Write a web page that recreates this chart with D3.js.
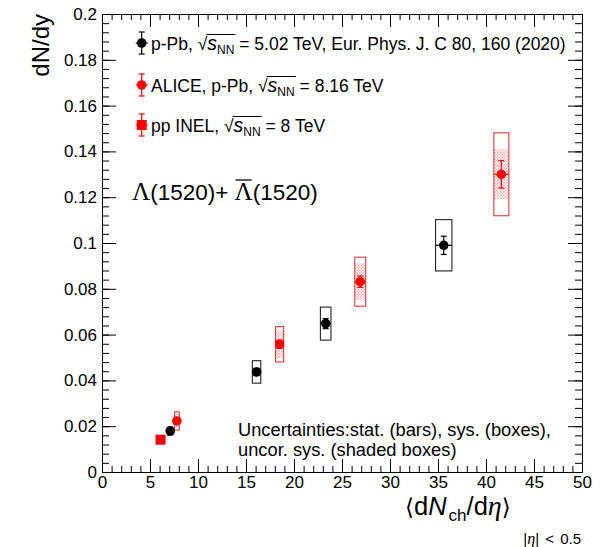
<!DOCTYPE html>
<html>
<head>
<meta charset="utf-8">
<script src="https://cdn.jsdelivr.net/npm/d3@7"></script>
<style>
  html, body { margin: 0; padding: 0; background: #fff; }
  svg { display: block; }
  text { font-family: "Liberation Sans", Arial, Helvetica, sans-serif; fill: #000; }
</style>
</head>
<body>
<svg id="chart" width="603" height="547"></svg>
<script>
// ---------- DATA ----------
// p-Pb 5.02 TeV (black)
const pPb502_x     = [7.1, 16.1, 23.3, 35.6];
const pPb502_y     = [0.0179, 0.0437, 0.0648, 0.0990];
const pPb502_stat  = [0.0010, 0.0016, 0.0022, 0.0040];
const pPb502_sys   = [0.0018, 0.0049, 0.0072, 0.0112];
const pPb502_xerr  = [0.25, 0.44, 0.55, 0.85];
// ALICE p-Pb 8.16 TeV (red)
const pPb816_x     = [7.8, 18.5, 26.9, 41.6];
const pPb816_y     = [0.0223, 0.0558, 0.0831, 0.1300];
const pPb816_stat  = [0.0012, 0.0018, 0.0025, 0.0060];
const pPb816_sys   = [0.0040, 0.0077, 0.0107, 0.0181];
const pPb816_uncor = [0.0030, 0.0060, 0.0080, 0.0109];
const pPb816_xerr  = [0.25, 0.42, 0.57, 0.78];
// pp INEL 8 TeV (red square)
const pp8_x = [6.1];
const pp8_y = [0.0141];

const xMajorTicks = [0, 5, 10, 15, 20, 25, 30, 35, 40, 45, 50];
const xTickLabels = ["0", "5", "10", "15", "20", "25", "30", "35", "40", "45", "50"];
const yMajorTicks = [0, 0.02, 0.04, 0.06, 0.08, 0.1, 0.12, 0.14, 0.16, 0.18, 0.2];
const yTickLabels = ["0", "0.02", "0.04", "0.06", "0.08", "0.1", "0.12", "0.14", "0.16", "0.18", "0.2"];

// ---------- LAYOUT ----------
const svg = d3.select("#chart");
const L = 102, R = 582, T = 14, B = 472;
const x = d3.scaleLinear().domain([0, 50]).range([L, R]);
const y = d3.scaleLinear().domain([0, 0.2]).range([B, T]);

const RED = "#ff0000";
const RED_BOX = "#e23a3a";

// hatch pattern for uncorrelated systematics
const defs = svg.append("defs");
const pat = defs.append("pattern").attr("id", "hatch").attr("patternUnits", "userSpaceOnUse")
  .attr("width", 3).attr("height", 3);
pat.append("rect").attr("width", 3).attr("height", 3).attr("fill", "#fff");
pat.append("path").attr("d", "M0,0 L3,3 M3,0 L0,3").attr("stroke", "#f39a9a").attr("stroke-width", 0.6);

// ---------- AXES ----------
const xMinor = d3.range(0, 50.001, 1);
const yMinor = d3.range(0, 0.2001, 0.004);

function styleAxis(g) {
  g.select(".domain").attr("stroke", "#000").attr("stroke-width", 1);
  g.selectAll(".tick line").attr("stroke", "#000").attr("stroke-width", 1);
}

// bottom
svg.append("g").attr("transform", `translate(0,${B})`)
  .call(d3.axisBottom(x).tickValues(xMinor).tickSize(-6).tickFormat("").tickSizeOuter(0)).call(styleAxis);
const gx = svg.append("g").attr("transform", `translate(0,${B})`)
  .call(d3.axisBottom(x).tickValues(xMajorTicks).tickSize(-13).tickPadding(4)
    .tickFormat((d, i) => xTickLabels[i]).tickSizeOuter(0)).call(styleAxis);
gx.selectAll("text").attr("font-size", 17).attr("font-family", "Liberation Sans, Arial, sans-serif");
// top
svg.append("g").attr("transform", `translate(0,${T})`)
  .call(d3.axisTop(x).tickValues(xMinor).tickSize(-6).tickFormat("").tickSizeOuter(0)).call(styleAxis);
svg.append("g").attr("transform", `translate(0,${T})`)
  .call(d3.axisTop(x).tickValues(xMajorTicks).tickSize(-13).tickFormat("").tickSizeOuter(0)).call(styleAxis);
// left
svg.append("g").attr("transform", `translate(${L},0)`)
  .call(d3.axisLeft(y).tickValues(yMinor).tickSize(-7).tickFormat("").tickSizeOuter(0)).call(styleAxis);
const gy = svg.append("g").attr("transform", `translate(${L},0)`)
  .call(d3.axisLeft(y).tickValues(yMajorTicks).tickSize(-14).tickPadding(5)
    .tickFormat((d, i) => yTickLabels[i]).tickSizeOuter(0)).call(styleAxis);
gy.selectAll("text").attr("font-size", 17).attr("font-family", "Liberation Sans, Arial, sans-serif");
// right
svg.append("g").attr("transform", `translate(${R},0)`)
  .call(d3.axisRight(y).tickValues(yMinor).tickSize(-7).tickFormat("").tickSizeOuter(0)).call(styleAxis);
svg.append("g").attr("transform", `translate(${R},0)`)
  .call(d3.axisRight(y).tickValues(yMajorTicks).tickSize(-14).tickFormat("").tickSizeOuter(0)).call(styleAxis);

// ---------- AXIS TITLES ----------
svg.append("text").attr("transform", `translate(49,${T}) rotate(-90)`)
  .attr("text-anchor", "end").attr("font-size", 24).text("dN/dy");

const xt = svg.append("text").attr("x", 405).attr("y", 515).attr("font-size", 25.5);
xt.append("tspan").attr("font-family", "DejaVu Sans, sans-serif").attr("font-size", 23).text("\u27E8");
xt.append("tspan").text("d");
xt.append("tspan").attr("font-style", "italic").text("N");
xt.append("tspan").attr("font-size", 17).attr("dy", 6).attr("dx", 2).text("ch");
xt.append("tspan").attr("dy", -6).text("/d");
xt.append("tspan").attr("font-style", "italic").attr("font-family", "Liberation Serif, serif").attr("font-size", 28).text("\u03B7");
xt.append("tspan").attr("font-family", "DejaVu Sans, sans-serif").attr("font-size", 23).text("\u27E9");

const xs = svg.append("text").attr("x", 581).attr("y", 544).attr("text-anchor", "end")
  .attr("font-size", 15).attr("word-spacing", 2);
xs.append("tspan").text("|");
xs.append("tspan").attr("font-style", "italic").attr("font-family", "Liberation Serif, serif").attr("font-size", 16).text("\u03B7");
xs.append("tspan").text("| < 0.5");

// ---------- DATA MARKS ----------
const plot = svg.append("g");

// black sys boxes
plot.selectAll("rect.bsys").data(pPb502_x).join("rect").attr("class", "bsys")
  .attr("x", (d, i) => x(d - pPb502_xerr[i]))
  .attr("width", (d, i) => x(d + pPb502_xerr[i]) - x(d - pPb502_xerr[i]))
  .attr("y", (d, i) => y(pPb502_y[i] + pPb502_sys[i]))
  .attr("height", (d, i) => y(pPb502_y[i] - pPb502_sys[i]) - y(pPb502_y[i] + pPb502_sys[i]))
  .attr("fill", "none").attr("stroke", "#222").attr("stroke-width", 1.1);

// red uncorrelated (shaded) boxes
plot.selectAll("rect.runc").data(pPb816_x).join("rect").attr("class", "runc")
  .attr("x", (d, i) => x(d - pPb816_xerr[i]))
  .attr("width", (d, i) => x(d + pPb816_xerr[i]) - x(d - pPb816_xerr[i]))
  .attr("y", (d, i) => y(pPb816_y[i] + pPb816_uncor[i]))
  .attr("height", (d, i) => y(pPb816_y[i] - pPb816_uncor[i]) - y(pPb816_y[i] + pPb816_uncor[i]))
  .attr("fill", "url(#hatch)").attr("stroke", "none");

// red sys boxes
plot.selectAll("rect.rsys").data(pPb816_x).join("rect").attr("class", "rsys")
  .attr("x", (d, i) => x(d - pPb816_xerr[i]))
  .attr("width", (d, i) => x(d + pPb816_xerr[i]) - x(d - pPb816_xerr[i]))
  .attr("y", (d, i) => y(pPb816_y[i] + pPb816_sys[i]))
  .attr("height", (d, i) => y(pPb816_y[i] - pPb816_sys[i]) - y(pPb816_y[i] + pPb816_sys[i]))
  .attr("fill", "none").attr("stroke", RED_BOX).attr("stroke-width", 1.1);

function errorBars(xs, ys, errs, xerrs, color) {
  const g = plot.append("g").attr("stroke", color).attr("stroke-width", 1.2);
  xs.forEach((xv, i) => {
    const cx = x(xv), cy = y(ys[i]);
    const y1 = y(ys[i] + errs[i]), y2 = y(ys[i] - errs[i]);
    g.append("line").attr("x1", cx).attr("x2", cx).attr("y1", y1).attr("y2", y2);
    g.append("line").attr("x1", cx - 3).attr("x2", cx + 3).attr("y1", y1).attr("y2", y1);
    g.append("line").attr("x1", cx - 3).attr("x2", cx + 3).attr("y1", y2).attr("y2", y2);
    g.append("line").attr("x1", x(xv - xerrs[i])).attr("x2", x(xv + xerrs[i])).attr("y1", cy).attr("y2", cy);
  });
}
errorBars(pPb502_x, pPb502_y, pPb502_stat, pPb502_xerr, "#000");
errorBars(pPb816_x, pPb816_y, pPb816_stat, pPb816_xerr, RED);

plot.selectAll("circle.b").data(pPb502_x).join("circle").attr("class", "b")
  .attr("cx", d => x(d)).attr("cy", (d, i) => y(pPb502_y[i])).attr("r", 4.8).attr("fill", "#000");
plot.selectAll("circle.r").data(pPb816_x).join("circle").attr("class", "r")
  .attr("cx", d => x(d)).attr("cy", (d, i) => y(pPb816_y[i])).attr("r", 4.8).attr("fill", RED);
plot.selectAll("rect.pp").data(pp8_x).join("rect").attr("class", "pp")
  .attr("x", d => x(d) - 5).attr("y", (d, i) => y(pp8_y[i]) - 5)
  .attr("width", 10).attr("height", 10).attr("fill", RED);

// ---------- LEGEND ----------
function legendMarker(cx, cy, color, shape) {
  const g = svg.append("g").attr("stroke", color).attr("stroke-width", 1.2);
  g.append("line").attr("x1", cx).attr("x2", cx).attr("y1", cy - 11).attr("y2", cy + 11);
  g.append("line").attr("x1", cx - 3).attr("x2", cx + 3).attr("y1", cy - 11).attr("y2", cy - 11);
  g.append("line").attr("x1", cx - 3).attr("x2", cx + 3).attr("y1", cy + 11).attr("y2", cy + 11);
  g.append("line").attr("x1", cx - 6).attr("x2", cx + 6).attr("y1", cy).attr("y2", cy);
  if (shape === "circle") svg.append("circle").attr("cx", cx).attr("cy", cy).attr("r", 4.8).attr("fill", color);
  else svg.append("rect").attr("x", cx - 5).attr("y", cy - 5).attr("width", 10).attr("height", 10).attr("fill", color);
}

function sqrtsText(xp, yp, before, after) {
  const t = svg.append("text").attr("x", xp).attr("y", yp).attr("font-size", 17.5);
  t.append("tspan").text(before);
  t.append("tspan").text("\u221A");
  t.append("tspan").attr("font-style", "italic").attr("font-size", 19.5).text("s");
  t.append("tspan").attr("font-size", 12).attr("dy", 4).text("NN");
  t.append("tspan").attr("dy", -4).text(after);
  // overline of the radical
  const n = t.node();
  const iRad = before.length;
  const iEnd = before.length + 1 + 1 + 2 - 1;
  const eR = n.getExtentOfChar(iRad);
  const eE = n.getExtentOfChar(iEnd);
  svg.append("line").attr("x1", eR.x + eR.width - 1).attr("x2", eE.x + eE.width + 1)
    .attr("y1", yp - 15).attr("y2", yp - 15).attr("stroke", "#000").attr("stroke-width", 1);
  return t;
}

legendMarker(141.7, 43, "#000", "circle");
sqrtsText(151, 49.5, "p-Pb, ", " = 5.02 TeV, Eur. Phys. J. C 80, 160 (2020)");
legendMarker(141.7, 85, RED, "circle");
sqrtsText(151, 91.5, "ALICE, p-Pb, ", " = 8.16 TeV");
legendMarker(141.7, 125, RED, "square");
sqrtsText(151, 131.5, "pp INEL, ", " = 8 TeV");

// ---------- Lambda label ----------
const lam = svg.append("text").attr("x", 132).attr("y", 200).attr("font-size", 22.5);
lam.append("tspan").attr("font-family", "Liberation Serif, serif").attr("font-size", 25).text("\u039B");
lam.append("tspan").text("(1520)+ ");
lam.append("tspan").attr("font-family", "Liberation Serif, serif").attr("font-size", 25).text("\u039B");
lam.append("tspan").text("(1520)");
{
  const e = lam.node().getExtentOfChar(9);
  svg.append("line").attr("x1", e.x + 1).attr("x2", e.x + e.width - 1)
    .attr("y1", 180).attr("y2", 180).attr("stroke", "#000").attr("stroke-width", 1.3);
}

// ---------- Uncertainties note ----------
svg.append("text").attr("x", 238).attr("y", 436).attr("font-size", 18.3)
  .text("Uncertainties:stat. (bars), sys. (boxes),");
svg.append("text").attr("x", 238).attr("y", 456).attr("font-size", 18.3)
  .text("uncor. sys. (shaded boxes)");
</script>
</body>
</html>
